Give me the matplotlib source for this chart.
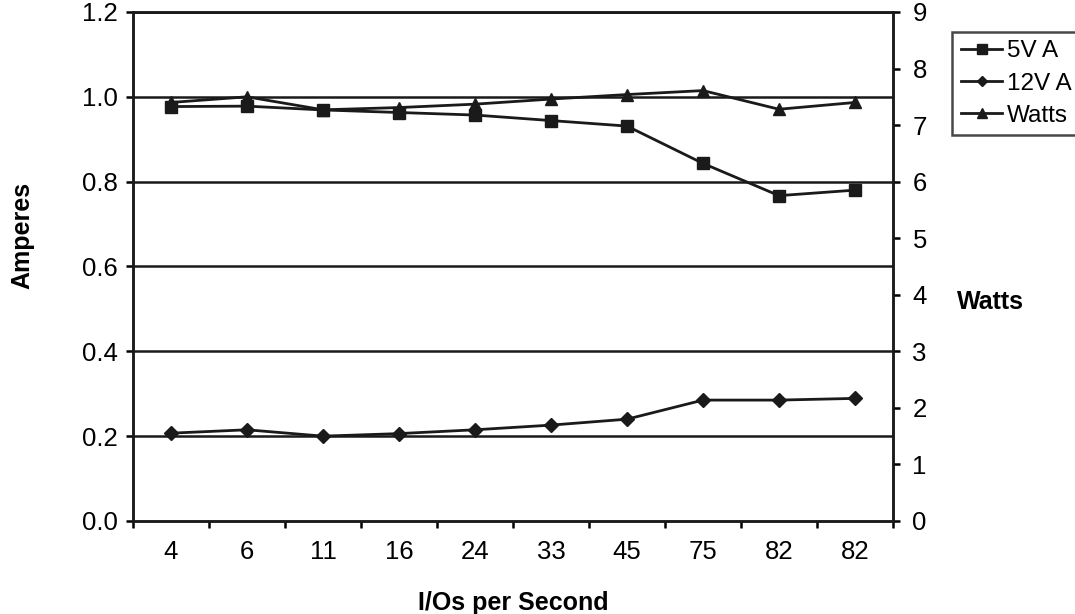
import numpy as np
from matplotlib import pyplot as plt
from matplotlib.ticker import FixedLocator

plt.rcParams['font.family'] = ['Liberation Sans', 'DejaVu Sans']

################### 数据
io_labels = ['4', '6', '11', '16', '24', '33', '45', '75', '82', '82']  # x轴类别
amps_5v = [0.977, 0.978, 0.969, 0.963, 0.957, 0.944, 0.931, 0.843, 0.767, 0.780]
amps_12v = [0.207, 0.215, 0.200, 0.206, 0.215, 0.226, 0.240, 0.285, 0.285, 0.289]
watts = [7.40, 7.50, 7.27, 7.31, 7.37, 7.46, 7.54, 7.61, 7.28, 7.40]

amp_ticks = [0.0, 0.2, 0.4, 0.6, 0.8, 1.0, 1.2]
watt_ticks = [0, 1, 2, 3, 4, 5, 6, 7, 8, 9]

#################### 画图
fig = plt.figure(figsize=(10.75, 6.14), dpi=100)
ax = fig.add_axes([0.1237, 0.1515, 0.707, 0.829])
ax2 = ax.twinx()

x = np.arange(len(io_labels))
l1, = ax.plot(x, amps_5v, color='#1a1a1a', lw=2, marker='s', ms=8.5)
l2, = ax.plot(x, amps_12v, color='#1a1a1a', lw=2, marker='D', ms=7)
l3, = ax2.plot(x, watts, color='#1a1a1a', lw=2, marker='^', ms=9)

# 网格线
for v in amp_ticks[1:]:
    ax.axhline(v, color='#1a1a1a', lw=1.8, zorder=0)

ax.set_xlim(-0.5, len(io_labels) - 0.5)
ax.set_ylim(0, 1.2)
ax2.set_ylim(0, 9)
ax.set_yticks(amp_ticks)
ax.set_yticklabels(['%.1f' % v for v in amp_ticks])
ax2.set_yticks(watt_ticks)

# x轴刻度在类别之间
ax.set_xticks(x)
ax.set_xticklabels(io_labels)
ax.xaxis.set_minor_locator(FixedLocator(np.arange(len(io_labels) + 1) - 0.5))
ax.tick_params(axis='x', which='major', length=0, pad=14, labelsize=18.5)
ax.tick_params(axis='x', which='minor', length=5, width=1.8, direction='out')
ax.tick_params(axis='y', length=5, width=1.8, labelsize=18.5, pad=6)
ax2.tick_params(axis='y', length=5, width=1.8, labelsize=18.5, pad=9)

for a in (ax, ax2):
    for s in a.spines.values():
        s.set_linewidth(1.8)
        s.set_color('#1a1a1a')

ax.set_xlabel('I/Os per Second', fontsize=18, fontweight='bold', va='center')
ax.xaxis.set_label_coords(0.5, -0.161)
ax.set_ylabel('Amperes', fontsize=18, fontweight='bold', va='center')
ax.yaxis.set_label_coords(-0.146, 0.56)
ax2.set_ylabel('Watts', fontsize=18, fontweight='bold', rotation=0, va='center', ha='center')
ax2.yaxis.set_label_coords(1.128, 0.43)

leg = fig.legend([l1, l2, l3], ['5V A', '12V A', 'Watts'], loc='upper left',
                 bbox_to_anchor=(0.886, 0.948), fontsize=17.5, frameon=True, fancybox=False,
                 handlelength=1.7, handletextpad=0.2, borderpad=0.35, labelspacing=0.42,
                 markerscale=0.8, borderaxespad=0)
leg.get_frame().set_edgecolor('#1a1a1a')
leg.get_frame().set_linewidth(1.8)

plt.savefig('out.png', dpi=100)
